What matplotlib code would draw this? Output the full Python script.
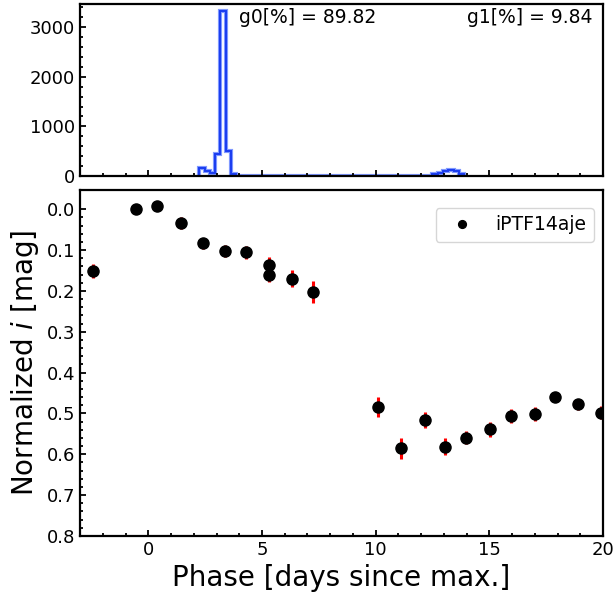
import numpy as np
import matplotlib
matplotlib.use("Agg")
import matplotlib.pyplot as plt

# light curve of iPTF14aje (phase in days, normalized i mag, error)
phase = [-2.42, -0.53, 0.40, 1.44, 2.39, 3.39, 4.31, 5.31, 5.31, 6.34, 7.23,
         10.11, 11.11, 12.15, 13.04, 13.99, 15.01, 15.97, 17.01, 17.87, 18.91, 19.90]
mag = [0.152, 0.000, -0.007, 0.034, 0.084, 0.102, 0.106, 0.137, 0.160, 0.170, 0.203,
       0.484, 0.585, 0.516, 0.581, 0.559, 0.539, 0.507, 0.502, 0.460, 0.478, 0.498]
mag_err = [0.017, 0.013, 0.012, 0.014, 0.013, 0.014, 0.017, 0.020, 0.019, 0.021, 0.026,
           0.025, 0.026, 0.020, 0.021, 0.017, 0.018, 0.017, 0.017, 0.010, 0.014, 0.015]

# histogram of the fitted parameter (50 bins)
hist_lo, hist_hi = 2.24, 13.89
hist_counts = [170, 105, 60, 450, 3320, 510, 50, 8, 5, 4,
               3, 3, 2, 2, 2, 2, 1, 1, 1, 1,
               1, 1, 1, 1, 1, 1, 1, 1, 1, 1,
               1, 1, 1, 1, 1, 1, 2, 2, 2, 3,
               3, 4, 5, 8, 45, 65, 110, 130, 95, 45]
g0 = 89.82
g1 = 9.84

plt.rcParams['font.family'] = 'DejaVu Sans'
plt.rcParams['mathtext.fontset'] = 'dejavusans'

fig = plt.figure(figsize=(6.16, 5.95), dpi=100)
ax_top = fig.add_axes([0.130, 0.704, 0.849, 0.289])
ax = fig.add_axes([0.130, 0.0992, 0.849, 0.5815])

edges = np.linspace(hist_lo, hist_hi, len(hist_counts) + 1)
ax_top.stairs(hist_counts, edges, color='#7f98ff', lw=3.0)
ax_top.stairs(hist_counts, edges, color='#1a3cf0', lw=1.4)
ax_top.text(0.304, 0.92, f'g0[%] = {g0:.2f}', transform=ax_top.transAxes,
            fontsize=13.5, ha='left', va='center')
ax_top.text(0.979, 0.92, f'g1[%] = {g1:.2f}', transform=ax_top.transAxes,
            fontsize=13.5, ha='right', va='center')
ax_top.set_ylim(0, 3460)
ax_top.set_yticks([0, 1000, 2000, 3000])
ax_top.set_yticks(np.arange(0, 3460, 200), minor=True)

ax.errorbar(phase, mag, yerr=mag_err, fmt='none', ecolor='red', elinewidth=2.2,
            capsize=0, zorder=2)
ax.plot(phase, mag, 'o', color='black', ms=8, label='iPTF14aje', zorder=3)
ax.set_ylim(0.8, -0.047)
ax.set_yticks(np.arange(0, 0.81, 0.1))
ax.set_yticks(np.arange(0, 0.81, 0.02), minor=True)
ax.set_xlabel('Phase [days since max.]', fontsize=20)
ax.set_ylabel('Normalized $i$ [mag]', fontsize=20)
ax.legend(loc='upper right', bbox_to_anchor=(0.983, 0.948), borderaxespad=0,
          fontsize=13.5, markerscale=0.7)

for a in (ax_top, ax):
    a.set_xlim(-3, 20)
    a.set_xticks([0, 5, 10, 15, 20])
    a.set_xticks(np.arange(-3, 21, 1), minor=True)
    a.tick_params(which='both', direction='in', labelsize=13, width=1.3)
    a.tick_params(which='major', length=4.5)
    a.tick_params(which='minor', length=2.5)
    for s in a.spines.values():
        s.set_linewidth(1.6)
ax.set_yticklabels([f'{v:.1f}' for v in np.arange(0, 0.81, 0.1)])
ax_top.tick_params(labelbottom=False)

fig.savefig('out.png', dpi=100)
